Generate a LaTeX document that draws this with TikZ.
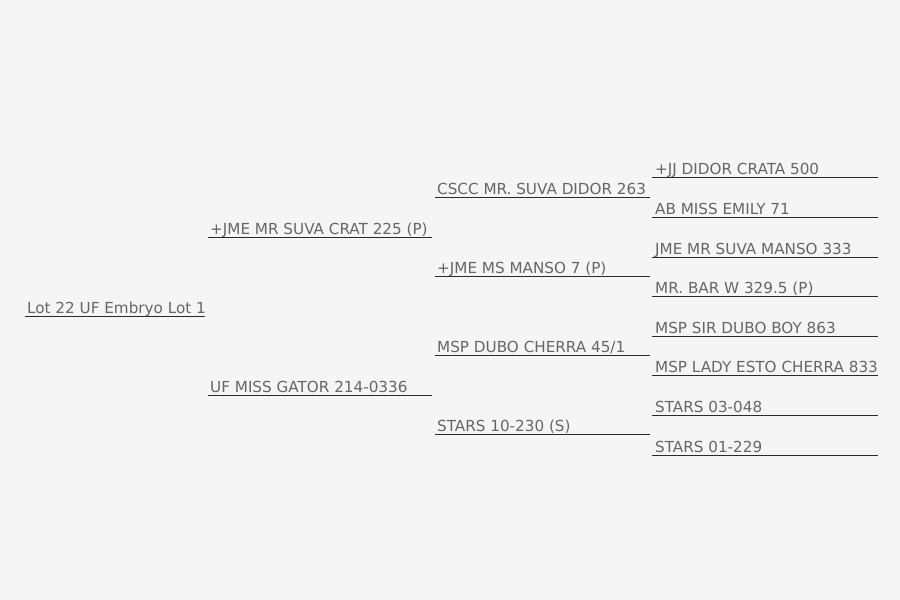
\documentclass[tikz,border=0pt]{standalone}
\usepackage{fontspec}
\setmainfont{DejaVu Sans}
\definecolor{bgc}{HTML}{F5F5F5}
\definecolor{txtc}{HTML}{666666}
\definecolor{linec}{HTML}{2A2A2A}
\begin{document}
\begin{tikzpicture}[x=1pt,y=-1pt,
  uline/.style={draw=linec,line width=1.7pt},
  lbl/.style={anchor=base west,inner sep=0pt,text=txtc,font=\fontsize{15.2}{17}\selectfont}]
\useasboundingbox (0,0) rectangle (900,600);
\fill[bgc] (0,0) rectangle (900,600);
% generation 0
\coordinate (g0L) at (25,316.5); \coordinate (g0R) at (205,316.5);
\draw[uline] (g0L) -- (g0R);
\node[lbl] (g0) at (27,313.5) {Lot 22 UF Embryo Lot 1};
% generation 1
\coordinate (s1L) at (208,237.5); \coordinate (s1R) at (432,237.5);
\draw[uline] (s1L) -- (s1R);
\node[lbl] (s1) at (210,234.5) {+JME MR SUVA CRAT 225 (P)};
\coordinate (d1L) at (208,395.5); \coordinate (d1R) at (432,395.5);
\draw[uline] (d1L) -- (d1R);
\node[lbl] (d1) at (210,392.5) {UF MISS GATOR 214-0336};
% generation 2
\coordinate (a2L) at (435,197.5); \coordinate (a2R) at (650,197.5);
\draw[uline] (a2L) -- (a2R);
\node[lbl] (a2) at (437,194.5) {CSCC MR. SUVA DIDOR 263};
\coordinate (b2L) at (435,276.5); \coordinate (b2R) at (650,276.5);
\draw[uline] (b2L) -- (b2R);
\node[lbl] (b2) at (437,273.5) {+JME MS MANSO 7 (P)};
\coordinate (c2L) at (435,355.5); \coordinate (c2R) at (650,355.5);
\draw[uline] (c2L) -- (c2R);
\node[lbl] (c2) at (437,352.5) {MSP DUBO CHERRA 45/1};
\coordinate (e2L) at (435,434.5); \coordinate (e2R) at (650,434.5);
\draw[uline] (e2L) -- (e2R);
\node[lbl] (e2) at (437,431.5) {STARS 10-230 (S)};
% generation 3
\coordinate (a3L) at (652,177.5); \coordinate (a3R) at (878,177.5);
\draw[uline] (a3L) -- (a3R);
\node[lbl] (a3) at (655,174.5) {+JJ DIDOR CRATA 500};
\coordinate (b3L) at (652,217.5); \coordinate (b3R) at (878,217.5);
\draw[uline] (b3L) -- (b3R);
\node[lbl] (b3) at (655,214.5) {AB MISS EMILY 71};
\coordinate (c3L) at (652,257.5); \coordinate (c3R) at (878,257.5);
\draw[uline] (c3L) -- (c3R);
\node[lbl] (c3) at (655,254.5) {JME MR SUVA MANSO 333};
\coordinate (d3L) at (652,296.5); \coordinate (d3R) at (878,296.5);
\draw[uline] (d3L) -- (d3R);
\node[lbl] (d3) at (655,293.5) {MR. BAR W 329.5 (P)};
\coordinate (e3L) at (652,336.5); \coordinate (e3R) at (878,336.5);
\draw[uline] (e3L) -- (e3R);
\node[lbl] (e3) at (655,333.5) {MSP SIR DUBO BOY 863};
\coordinate (f3L) at (652,375.5); \coordinate (f3R) at (878,375.5);
\draw[uline] (f3L) -- (f3R);
\node[lbl] (f3) at (655,372.5) {MSP LADY ESTO CHERRA 833};
\coordinate (h3L) at (652,415.5); \coordinate (h3R) at (878,415.5);
\draw[uline] (h3L) -- (h3R);
\node[lbl] (h3) at (655,412.5) {STARS 03-048};
\coordinate (i3L) at (652,455.5); \coordinate (i3R) at (878,455.5);
\draw[uline] (i3L) -- (i3R);
\node[lbl] (i3) at (655,452.5) {STARS 01-229};
\end{tikzpicture}
\end{document}
